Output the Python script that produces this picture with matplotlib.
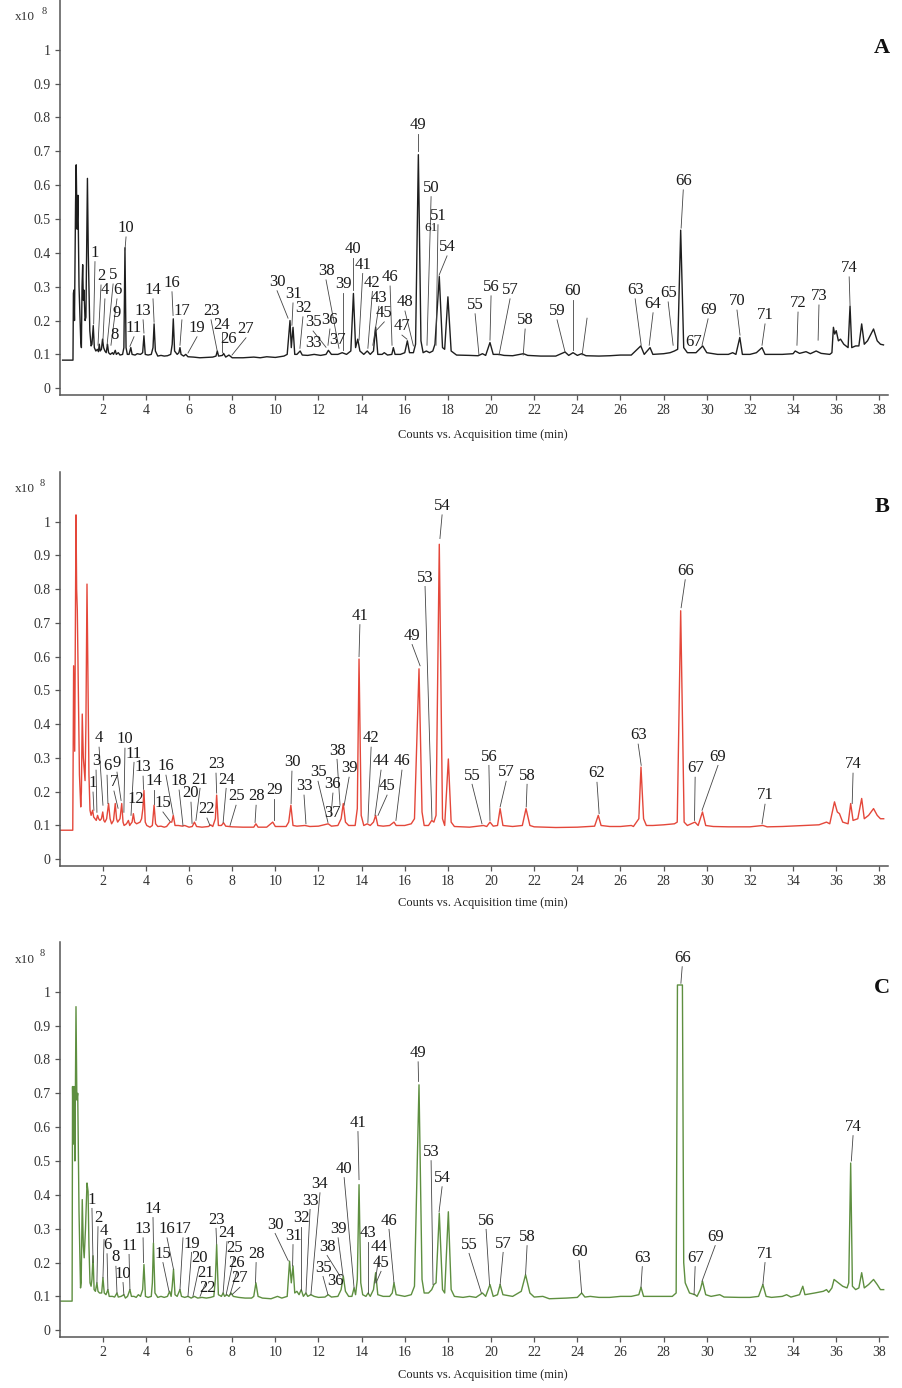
import matplotlib
matplotlib.use("Agg")
import matplotlib.pyplot as plt

plt.rcParams['font.family'] = ['Liberation Serif', 'DejaVu Serif']

# ---------------- data (time in min, counts in units of 1e8) ----------------
trace_A = [(0.14,0.083),(0.62,0.083),(0.64,0.28),(0.66,0.29),(0.69,0.20),(0.74,0.55),(0.77,0.66),(0.81,0.47),(0.85,0.57),(0.90,0.30),(0.98,0.14),(1.01,0.12),(1.04,0.30),(1.07,0.365),(1.10,0.26),(1.13,0.29),(1.18,0.20),(1.22,0.21),(1.26,0.45),(1.29,0.62),(1.33,0.40),(1.40,0.17),(1.46,0.125),(1.50,0.13),(1.56,0.185),(1.61,0.12),(1.68,0.11),(1.75,0.115),(1.80,0.108),(1.84,0.13),(1.88,0.11),(1.94,0.115),(1.99,0.145),(2.04,0.12),(2.10,0.11),(2.16,0.105),(2.22,0.13),(2.27,0.105),(2.35,0.10),(2.45,0.105),(2.50,0.10),(2.58,0.112),(2.63,0.10),(2.72,0.105),(2.80,0.098),(2.92,0.10),(2.98,0.12),(3.03,0.415),(3.08,0.12),(3.14,0.10),(3.22,0.10),(3.30,0.12),(3.36,0.10),(3.50,0.098),(3.60,0.102),(3.75,0.10),(3.85,0.105),(3.91,0.155),(3.97,0.10),(4.10,0.098),(4.25,0.10),(4.33,0.12),(4.38,0.19),(4.44,0.11),(4.55,0.095),(4.70,0.097),(4.85,0.095),(5.00,0.096),(5.15,0.10),(5.22,0.13),(5.27,0.205),(5.33,0.11),(5.45,0.10),(5.53,0.105),(5.58,0.12),(5.63,0.10),(5.75,0.095),(5.85,0.10),(5.95,0.093),(6.2,0.092),(6.5,0.09),(6.8,0.091),(7.1,0.092),(7.25,0.095),(7.31,0.11),(7.37,0.095),(7.55,0.097),(7.6,0.103),(7.7,0.092),(7.85,0.098),(8.0,0.09),(8.5,0.09),(9.0,0.092),(9.3,0.09),(9.6,0.093),(10.0,0.091),(10.4,0.095),(10.55,0.10),(10.68,0.20),(10.74,0.12),(10.82,0.18),(10.9,0.10),(11.0,0.10),(11.15,0.11),(11.25,0.098),(11.5,0.097),(11.8,0.10),(12.1,0.097),(12.35,0.10),(12.46,0.112),(12.6,0.10),(12.9,0.10),(13.1,0.105),(13.3,0.10),(13.5,0.11),(13.62,0.28),(13.72,0.12),(13.82,0.145),(13.92,0.11),(14.1,0.10),(14.26,0.11),(14.4,0.10),(14.55,0.11),(14.65,0.18),(14.75,0.10),(14.95,0.10),(15.05,0.105),(15.2,0.098),(15.4,0.10),(15.47,0.12),(15.55,0.10),(15.8,0.10),(16.0,0.105),(16.12,0.14),(16.22,0.105),(16.4,0.105),(16.5,0.13),(16.63,0.69),(16.75,0.14),(16.85,0.105),(17.0,0.11),(17.15,0.105),(17.3,0.11),(17.4,0.13),(17.6,0.33),(17.75,0.12),(17.85,0.115),(18.0,0.27),(18.15,0.11),(18.4,0.098),(19.0,0.097),(19.4,0.096),(19.6,0.102),(19.75,0.097),(19.95,0.135),(20.1,0.10),(20.37,0.10),(20.6,0.097),(21.0,0.096),(21.5,0.102),(21.7,0.097),(22.3,0.095),(23.0,0.095),(23.43,0.107),(23.6,0.097),(23.8,0.105),(24.0,0.097),(24.2,0.102),(24.4,0.096),(25.0,0.095),(25.5,0.096),(26.0,0.098),(26.5,0.098),(26.94,0.125),(27.1,0.10),(27.37,0.12),(27.5,0.10),(28.0,0.102),(28.3,0.105),(28.5,0.11),(28.65,0.115),(28.79,0.467),(28.93,0.12),(29.1,0.105),(29.5,0.105),(29.81,0.125),(30.0,0.105),(30.5,0.10),(31.0,0.10),(31.2,0.105),(31.35,0.10),(31.53,0.15),(31.65,0.10),(32.0,0.10),(32.3,0.105),(32.56,0.12),(32.7,0.10),(33.5,0.10),(34.0,0.102),(34.1,0.11),(34.3,0.103),(34.6,0.108),(34.8,0.102),(35.07,0.11),(35.3,0.103),(35.7,0.10),(35.8,0.105),(35.87,0.18),(35.93,0.16),(36.0,0.17),(36.1,0.14),(36.2,0.145),(36.35,0.13),(36.55,0.12),(36.64,0.243),(36.72,0.12),(36.9,0.125),(37.05,0.125),(37.18,0.19),(37.3,0.13),(37.45,0.14),(37.73,0.175),(37.9,0.14),(38.05,0.13),(38.19,0.128)]

trace_B = [(0.05,0.086),(0.61,0.086),(0.63,0.35),(0.65,0.573),(0.70,0.32),(0.73,0.70),(0.76,1.02),(0.79,0.80),(0.82,0.74),(0.86,0.55),(0.92,0.25),(0.98,0.155),(1.01,0.20),(1.05,0.43),(1.10,0.30),(1.18,0.233),(1.22,0.40),(1.27,0.815),(1.31,0.55),(1.36,0.25),(1.41,0.145),(1.46,0.13),(1.53,0.145),(1.58,0.125),(1.64,0.12),(1.70,0.115),(1.76,0.13),(1.81,0.12),(1.87,0.115),(1.94,0.12),(2.0,0.14),(2.05,0.115),(2.1,0.11),(2.18,0.12),(2.27,0.165),(2.34,0.12),(2.41,0.105),(2.50,0.115),(2.58,0.165),(2.64,0.12),(2.69,0.11),(2.80,0.12),(2.88,0.165),(2.94,0.11),(2.99,0.10),(3.10,0.105),(3.19,0.115),(3.25,0.10),(3.30,0.105),(3.36,0.11),(3.42,0.135),(3.48,0.11),(3.57,0.105),(3.73,0.11),(3.80,0.12),(3.86,0.15),(3.91,0.204),(3.97,0.11),(4.04,0.10),(4.19,0.095),(4.30,0.10),(4.38,0.16),(4.45,0.105),(4.55,0.097),(4.70,0.098),(4.85,0.095),(4.96,0.097),(5.12,0.11),(5.20,0.11),(5.27,0.13),(5.35,0.10),(5.5,0.10),(5.7,0.098),(5.8,0.10),(6.0,0.095),(6.15,0.097),(6.25,0.11),(6.35,0.097),(6.6,0.095),(6.9,0.097),(7.0,0.102),(7.1,0.097),(7.22,0.12),(7.28,0.19),(7.36,0.10),(7.5,0.10),(7.6,0.108),(7.7,0.098),(8.0,0.096),(8.5,0.095),(9.0,0.095),(9.1,0.105),(9.2,0.095),(9.6,0.095),(9.88,0.11),(10.0,0.097),(10.5,0.097),(10.62,0.11),(10.72,0.16),(10.82,0.10),(11.0,0.098),(11.37,0.10),(11.6,0.097),(12.0,0.098),(12.45,0.105),(12.6,0.098),(12.9,0.10),(13.05,0.12),(13.15,0.165),(13.25,0.11),(13.4,0.10),(13.7,0.10),(13.8,0.15),(13.88,0.593),(13.98,0.13),(14.1,0.10),(14.26,0.105),(14.4,0.10),(14.55,0.11),(14.65,0.13),(14.75,0.10),(15.0,0.098),(15.3,0.10),(15.5,0.11),(15.6,0.10),(16.0,0.10),(16.3,0.105),(16.45,0.12),(16.66,0.564),(16.8,0.14),(16.9,0.10),(17.1,0.10),(17.25,0.115),(17.35,0.11),(17.45,0.13),(17.6,0.933),(17.75,0.12),(17.85,0.10),(18.02,0.297),(18.15,0.11),(18.3,0.097),(19.0,0.095),(19.65,0.10),(19.8,0.097),(19.95,0.11),(20.1,0.098),(20.3,0.10),(20.42,0.15),(20.55,0.10),(21.0,0.097),(21.45,0.10),(21.62,0.15),(21.8,0.10),(22.0,0.096),(22.5,0.095),(23.0,0.094),(24.0,0.095),(24.8,0.098),(24.97,0.13),(25.1,0.10),(25.5,0.097),(26.0,0.097),(26.5,0.10),(26.6,0.097),(26.85,0.12),(26.95,0.273),(27.07,0.12),(27.2,0.10),(27.5,0.10),(28.0,0.102),(28.5,0.105),(28.63,0.11),(28.79,0.736),(28.95,0.11),(29.1,0.10),(29.45,0.11),(29.6,0.10),(29.8,0.14),(29.95,0.10),(30.3,0.097),(31.0,0.096),(32.0,0.096),(32.6,0.10),(32.8,0.096),(33.5,0.097),(34.5,0.10),(35.2,0.102),(35.55,0.11),(35.7,0.105),(35.92,0.17),(36.05,0.14),(36.15,0.135),(36.3,0.11),(36.55,0.105),(36.67,0.165),(36.78,0.115),(37.0,0.12),(37.18,0.18),(37.3,0.12),(37.5,0.13),(37.73,0.15),(37.9,0.13),(38.05,0.12),(38.2,0.12)]

trace_C = [(0.06,0.086),(0.58,0.086),(0.60,0.72),(0.64,0.55),(0.67,0.72),(0.71,0.50),(0.76,0.956),(0.80,0.68),(0.84,0.70),(0.90,0.35),(0.97,0.125),(1.00,0.14),(1.05,0.386),(1.10,0.25),(1.14,0.214),(1.20,0.30),(1.27,0.435),(1.32,0.41),(1.36,0.25),(1.41,0.14),(1.46,0.13),(1.50,0.15),(1.55,0.22),(1.60,0.12),(1.66,0.115),(1.73,0.14),(1.78,0.115),(1.85,0.11),(1.95,0.11),(2.01,0.155),(2.07,0.11),(2.15,0.105),(2.24,0.12),(2.30,0.10),(2.45,0.10),(2.55,0.098),(2.66,0.11),(2.72,0.098),(2.85,0.10),(2.98,0.105),(3.05,0.095),(3.15,0.10),(3.26,0.12),(3.33,0.10),(3.45,0.10),(3.55,0.097),(3.65,0.105),(3.75,0.10),(3.85,0.12),(3.91,0.194),(3.98,0.10),(4.10,0.097),(4.25,0.10),(4.30,0.14),(4.35,0.258),(4.42,0.11),(4.55,0.097),(4.70,0.10),(4.85,0.097),(5.00,0.10),(5.10,0.115),(5.17,0.10),(5.22,0.13),(5.28,0.18),(5.35,0.105),(5.45,0.10),(5.58,0.12),(5.65,0.10),(5.80,0.097),(5.95,0.10),(6.10,0.095),(6.25,0.10),(6.40,0.095),(6.60,0.097),(6.80,0.095),(7.00,0.097),(7.15,0.10),(7.22,0.15),(7.28,0.253),(7.36,0.105),(7.50,0.10),(7.58,0.11),(7.65,0.10),(7.75,0.105),(7.85,0.10),(7.95,0.11),(8.05,0.10),(8.30,0.097),(8.60,0.095),(8.90,0.095),(9.00,0.10),(9.10,0.14),(9.20,0.10),(9.40,0.095),(9.80,0.093),(10.10,0.10),(10.30,0.095),(10.55,0.10),(10.66,0.204),(10.74,0.14),(10.82,0.19),(10.90,0.11),(11.00,0.115),(11.10,0.105),(11.20,0.12),(11.30,0.10),(11.42,0.11),(11.50,0.10),(11.65,0.105),(11.80,0.10),(12.00,0.097),(12.30,0.098),(12.45,0.105),(12.60,0.098),(12.90,0.10),(13.05,0.12),(13.15,0.16),(13.25,0.115),(13.40,0.10),(13.55,0.10),(13.65,0.125),(13.72,0.105),(13.80,0.15),(13.88,0.43),(13.96,0.14),(14.05,0.105),(14.20,0.10),(14.30,0.11),(14.40,0.10),(14.55,0.12),(14.65,0.17),(14.75,0.105),(15.00,0.10),(15.30,0.10),(15.42,0.11),(15.50,0.14),(15.60,0.105),(16.00,0.10),(16.30,0.105),(16.45,0.13),(16.66,0.725),(16.80,0.15),(16.90,0.11),(17.10,0.11),(17.25,0.12),(17.35,0.135),(17.45,0.14),(17.60,0.346),(17.75,0.12),(17.85,0.11),(18.02,0.35),(18.15,0.12),(18.30,0.10),(18.70,0.097),(19.00,0.10),(19.30,0.097),(19.60,0.11),(19.75,0.10),(19.95,0.135),(20.10,0.10),(20.30,0.105),(20.42,0.135),(20.55,0.105),(21.00,0.10),(21.40,0.115),(21.60,0.164),(21.80,0.11),(22.00,0.098),(22.40,0.10),(22.70,0.093),(23.50,0.095),(24.00,0.097),(24.20,0.11),(24.35,0.098),(24.60,0.10),(25.00,0.097),(25.50,0.097),(26.00,0.10),(26.50,0.10),(26.85,0.105),(26.95,0.127),(27.07,0.10),(27.50,0.10),(28.00,0.10),(28.40,0.10),(28.58,0.11),(28.64,1.02),(28.87,1.02),(28.93,0.20),(29.00,0.14),(29.20,0.11),(29.45,0.105),(29.55,0.10),(29.70,0.12),(29.80,0.145),(29.95,0.105),(30.20,0.10),(30.60,0.105),(30.80,0.098),(31.50,0.097),(32.00,0.097),(32.40,0.10),(32.60,0.135),(32.75,0.10),(33.00,0.097),(33.50,0.10),(33.70,0.105),(33.90,0.098),(34.30,0.105),(34.45,0.13),(34.55,0.105),(35.00,0.11),(35.40,0.115),(35.55,0.12),(35.65,0.112),(35.80,0.125),(35.90,0.15),(36.00,0.145),(36.10,0.14),(36.30,0.13),(36.50,0.125),(36.58,0.14),(36.67,0.494),(36.75,0.13),(36.90,0.12),(37.05,0.125),(37.18,0.17),(37.30,0.125),(37.50,0.135),(37.73,0.15),(37.90,0.135),(38.05,0.12),(38.20,0.12)]

# peak numbers
names_A = ["1","2","5","4","6","9","8","10","11","13","14","16","17","19","23","24","26","27","30","31","32","35","36","33","37","38","39","40","41","42","46","43","45","48","47","49","50","51","61","54","55","56","57","58","59","60","63","64","65","66","67","69","70","71","72","73","74"]
names_B = ["4","3","10","11","6","9","1","7","13","12","14","15","16","18","20","21","22","23","24","25","28","29","30","33","35","36","37","38","39","41","42","44","45","46","49","53","54","55","56","57","58","62","63","66","67","69","71","74"]
names_C = ["1","2","4","6","8","10","11","13","14","15","16","17","19","20","21","22","23","24","25","26","27","28","30","31","32","33","34","38","39","35","36","40","41","43","44","45","46","49","53","54","55","56","57","58","60","63","66","67","69","71","74"]

# ---------------- layout of the peak labels (text anchor, leader tip) ----------------
text_A = [(1.64,0.40),(1.92,0.331),(2.48,0.334),(2.10,0.29),(2.66,0.29),(2.66,0.222),(2.57,0.157),(3.08,0.473),(3.45,0.178),(3.87,0.228),(4.33,0.29),(5.21,0.311),(5.67,0.228),(6.37,0.178),(7.02,0.228),(7.53,0.186),(7.85,0.145),(8.64,0.175),(10.08,0.314),(10.82,0.278),(11.28,0.237),(11.75,0.195),(12.53,0.201),(11.75,0.133),(12.86,0.142),(12.35,0.346),(13.14,0.308),(13.60,0.410),(14.05,0.365),(14.50,0.312),(15.32,0.328),(14.80,0.268),(15.05,0.222),(16.01,0.254),(15.87,0.183),(16.62,0.778),(17.22,0.592),(17.54,0.509),(17.22,0.473),(17.96,0.417),(19.26,0.246),(20.00,0.299),(20.88,0.29),(21.58,0.201),(23.06,0.228),(23.80,0.287),(26.68,0.29),(27.51,0.249),(28.21,0.281),(28.91,0.612),(29.37,0.136),(30.06,0.231),(31.40,0.257),(32.70,0.216),(34.23,0.251),(35.20,0.272),(36.60,0.355)]
tip_A = [(1.58,0.19),(1.78,0.127),(2.20,0.127),(2.01,0.142),(2.38,0.127),None,None,(3.03,0.408),(3.26,0.124),(3.91,0.163),(4.38,0.195),(5.26,0.215),(5.58,0.127),(5.95,0.104),(7.30,0.112),(7.53,0.107),None,(7.99,0.098),(10.59,0.207),(10.77,0.186),(11.14,0.118),(12.35,0.121),(12.44,0.127),None,None,(12.95,0.118),(13.14,0.112),(13.60,0.29),(13.88,0.142),(14.29,0.118),(15.41,0.127),(14.52,0.127),(14.67,0.17),(16.40,0.125),(16.10,0.145),(16.62,0.70),(17.03,0.127),(17.45,0.127),None,(17.59,0.334),(19.44,0.098),(19.95,0.142),(20.37,0.098),(21.49,0.098),(23.43,0.107),(23.80,0.112),(26.96,0.127),(27.33,0.127),(28.44,0.127),(28.81,0.473),None,(29.78,0.127),(31.54,0.157),(32.56,0.127),(34.18,0.127),(35.16,0.142),(36.64,0.246)]
extra_leaders_A = [((24.45,0.207),(24.22,0.098))]

text_B = [(1.83,0.358),(1.69,0.29),(3.03,0.355),(3.45,0.313),(2.20,0.275),(2.66,0.284),(1.55,0.225),(2.52,0.228),(3.87,0.272),(3.54,0.177),(4.38,0.231),(4.79,0.166),(4.93,0.275),(5.54,0.231),(6.09,0.195),(6.51,0.236),(6.83,0.148),(7.25,0.281),(7.72,0.236),(8.18,0.186),(9.11,0.186),(9.94,0.204),(10.77,0.287),(11.33,0.216),(11.98,0.257),(12.67,0.222),(12.67,0.136),(12.86,0.322),(13.42,0.269),(13.92,0.721),(14.44,0.358),(14.90,0.29),(15.18,0.216),(15.87,0.29),(16.34,0.662),(16.94,0.834),(17.73,1.046),(19.12,0.248),(19.90,0.304),(20.70,0.257),(21.67,0.248),(24.91,0.254),(26.82,0.367),(29.00,0.854),(29.46,0.269),(30.52,0.304),(32.70,0.189),(36.78,0.281)]
tip_B = [(2.01,0.16),(1.73,0.139),(2.98,0.139),(3.31,0.13),(2.24,0.165),(2.85,0.174),(1.59,0.145),(2.71,0.151),(3.89,0.207),None,(4.38,0.163),(5.12,0.112),(5.26,0.133),(5.72,0.10),(6.14,0.106),(6.32,0.115),(6.97,0.10),(7.28,0.196),(7.58,0.109),(7.90,0.10),(9.06,0.109),(9.94,0.115),(10.73,0.165),(11.42,0.105),(12.44,0.109),(12.58,0.13),None,(13.00,0.16),(13.19,0.16),(13.88,0.60),(14.29,0.109),(14.62,0.13),(14.76,0.13),(15.59,0.115),(16.71,0.573),(17.26,0.118),(17.63,0.95),(19.58,0.105),(19.95,0.115),(20.42,0.155),(21.63,0.155),(25.01,0.135),(26.96,0.278),(28.81,0.745),(29.43,0.115),(29.78,0.145),(32.56,0.105),(36.74,0.165)]

text_C = [(1.50,0.386),(1.78,0.332),(2.06,0.294),(2.20,0.252),(2.61,0.215),(2.94,0.167),(3.22,0.25),(3.87,0.299),(4.33,0.359),(4.79,0.226),(4.98,0.299),(5.72,0.299),(6.12,0.256),(6.47,0.213),(6.78,0.168),(6.85,0.124),(7.25,0.327),(7.76,0.288),(8.09,0.243),(8.22,0.20),(8.36,0.153),(9.11,0.226),(9.99,0.312),(10.82,0.279),(11.19,0.332),(11.61,0.383),(12.07,0.432),(12.40,0.247),(12.91,0.299),(12.21,0.185),(12.77,0.144),(13.19,0.477),(13.83,0.613),(14.29,0.288),(14.81,0.247),(14.90,0.20),(15.27,0.324),(16.62,0.819),(17.22,0.527),(17.73,0.45),(18.98,0.253),(19.77,0.324),(20.56,0.256),(21.67,0.276),(24.08,0.232),(27.01,0.214),(28.86,1.10),(29.46,0.214),(30.39,0.276),(32.70,0.226),(36.78,0.601)]
tip_C = [(1.55,0.20),(1.73,0.14),(2.01,0.155),(2.24,0.12),(2.66,0.11),(2.98,0.105),(3.26,0.12),(3.89,0.20),(4.35,0.26),(5.07,0.115),(5.28,0.18),(5.58,0.12),(5.95,0.10),(6.18,0.10),(6.51,0.10),None,(7.28,0.255),(7.58,0.11),(7.72,0.105),(7.90,0.105),(7.99,0.105),(9.08,0.14),(10.6,0.205),(10.80,0.19),(11.19,0.12),(11.42,0.11),(11.65,0.105),(13.0,0.16),(13.14,0.16),(12.44,0.105),None,(13.65,0.125),(13.88,0.445),(14.29,0.11),(14.62,0.14),(14.67,0.14),(15.50,0.14),(16.64,0.735),(17.31,0.135),(17.59,0.35),(19.55,0.11),(19.93,0.135),(20.42,0.135),(21.6,0.165),(24.2,0.11),(26.95,0.127),(28.8,1.025),(29.41,0.105),(29.78,0.145),(32.6,0.135),(36.70,0.50)]

y_ticks = [0, 0.1, 0.2, 0.3, 0.4, 0.5, 0.6, 0.7, 0.8, 0.9, 1.0]
y_tick_labels = ["0", "0.1", "0.2", "0.3", "0.4", "0.5", "0.6", "0.7", "0.8", "0.9", "1"]
x_ticks = list(range(2, 39, 2))
x_label = "Counts vs. Acquisition time (min)"

# ---------------- figure ----------------
W, H = 903, 1388
fig = plt.figure(figsize=(W / 100, H / 100), dpi=100)

panels = [
    dict(trace=trace_A, names=names_A, text=text_A, tip=tip_A, extra=extra_leaders_A,
         color="#1e1e1e", top=0, bottom=395, letter="A", letter_y=48,
         mult_y=17, sup_y=12, sup_x=42, label_y=435),
    dict(trace=trace_B, names=names_B, text=text_B, tip=tip_B, extra=[],
         color="#e4473a", top=472, bottom=866, letter="B", letter_y=507,
         mult_y=489, sup_y=484, sup_x=40, label_y=903),
    dict(trace=trace_C, names=names_C, text=text_C, tip=tip_C, extra=[],
         color="#5e8f40", top=942, bottom=1337, letter="C", letter_y=988,
         mult_y=960, sup_y=954, sup_x=40, label_y=1375),
]

left_px, right_px = 59.6, 888
axis_col = "#555555"
for p in panels:
    ax = fig.add_axes([left_px / W, 1 - p["bottom"] / H,
                       (right_px - left_px) / W, (p["bottom"] - p["top"]) / H])
    t = [a for a, b in p["trace"]]
    v = [b for a, b in p["trace"]]
    ax.plot(t, v, color=p["color"], lw=1.0, solid_joinstyle="round")
    ax.set_xlim(0, 38.4)
    ax.set_ylim(-0.02, 1.147)
    for s in ("top", "right"):
        ax.spines[s].set_visible(False)
    for s in ("left", "bottom"):
        ax.spines[s].set_color(axis_col)
        ax.spines[s].set_linewidth(1.1)
    ax.set_yticks(y_ticks)
    ax.set_yticklabels(y_tick_labels)
    ax.set_xticks(x_ticks)
    ax.set_xticklabels([str(x) for x in x_ticks])
    ax.tick_params(axis="both", colors=axis_col, labelcolor="#333333",
                   labelsize=10, length=3.5, width=0.9, pad=3)
    ax.patch.set_alpha(0)

    for name, (tx, ty), tip in zip(p["names"], p["text"], p["tip"]):
        fs = 9.5 if name == "61" else 12
        ax.text(tx, ty, name, ha="center", va="center", fontsize=fs,
                color="#1a1a1a", zorder=5)
        if tip is not None:
            ax.plot([tx, tip[0]], [ty - 0.026, tip[1]], color="#444444",
                    lw=0.6, zorder=4)
    for (a, b) in p["extra"]:
        ax.plot([a[0], b[0]], [a[1], b[1]], color="#444444", lw=0.6, zorder=4)

    fig.text(15 / W, 1 - p["mult_y"] / H, "x10", fontsize=9.5, color="#333333",
             ha="left", va="center")
    fig.text(p["sup_x"] / W, 1 - p["sup_y"] / H, "8", fontsize=7.5, color="#333333",
             ha="left", va="center")
    fig.text(882 / W, 1 - p["letter_y"] / H, p["letter"], fontsize=16,
             fontweight="bold", ha="center", va="center", color="#111111")
    fig.text(483 / W, 1 - p["label_y"] / H, x_label, fontsize=9,
             ha="center", va="center", color="#222222")

fig.savefig("out.png", dpi=100)
